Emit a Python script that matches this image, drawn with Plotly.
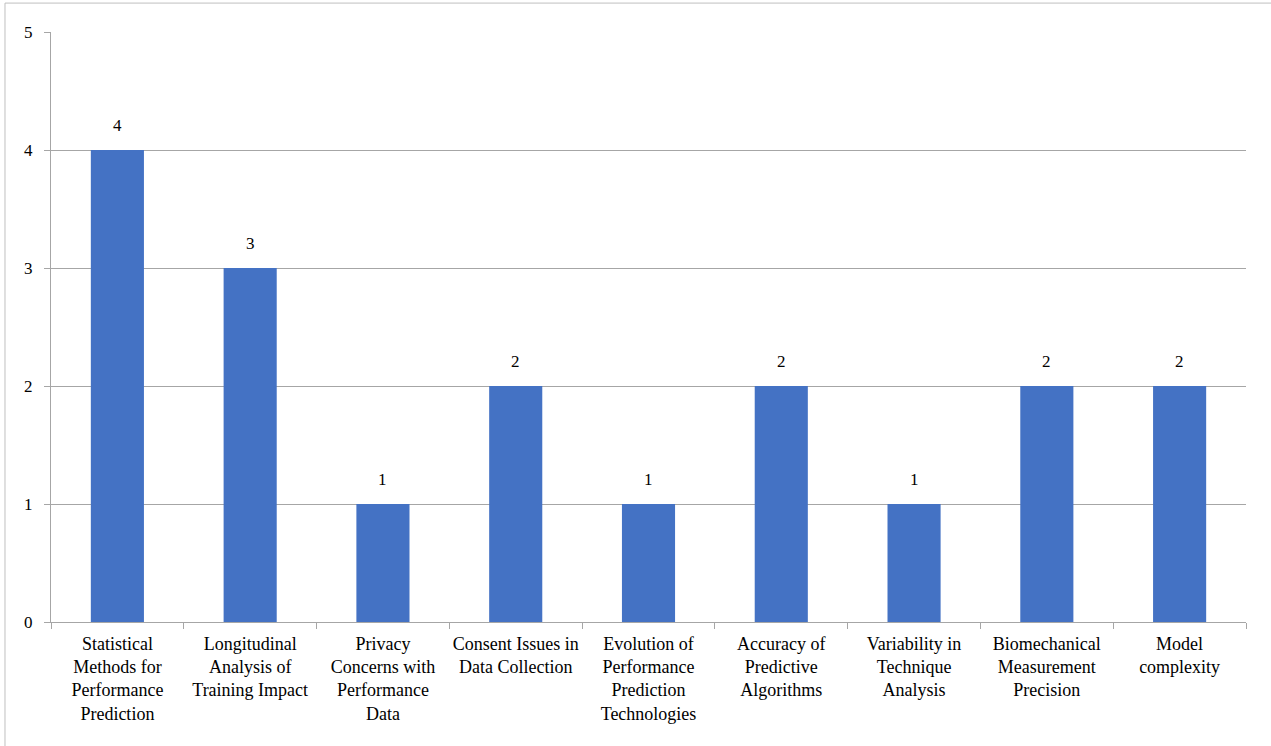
import plotly.graph_objects as go

categories = [
    "Statistical<br>Methods for<br>Performance<br>Prediction",
    "Longitudinal<br>Analysis of<br>Training Impact",
    "Privacy<br>Concerns with<br>Performance<br>Data",
    "Consent Issues in<br>Data Collection",
    "Evolution of<br>Performance<br>Prediction<br>Technologies",
    "Accuracy of<br>Predictive<br>Algorithms",
    "Variability in<br>Technique<br>Analysis",
    "Biomechanical<br>Measurement<br>Precision",
    "Model<br>complexity",
]
values = [4, 3, 1, 2, 1, 2, 1, 2, 2]
y_ticks = [0, 1, 2, 3, 4, 5]

FONT = "Liberation Serif"
GRID = "#A6A6A6"

fig = go.Figure()
fig.add_trace(go.Bar(x=categories, y=values, marker=dict(color="#4472C4", line=dict(width=0)),
                     hoverinfo="skip"))

annotations = [
    dict(x=c, y=v, text=str(v), showarrow=False, yshift=25, xref="x", yref="y",
         font=dict(family=FONT, size=17, color="#000000"))
    for c, v in zip(categories, values)
]

fig.update_layout(
    width=1271, height=746,
    margin=dict(l=51, r=25, t=32, b=124),
    paper_bgcolor="white", plot_bgcolor="white",
    bargap=0.6, showlegend=False,
    font=dict(family=FONT, size=17, color="#000000"),
    annotations=annotations,
    xaxis=dict(type="category", tickson="boundaries", ticks="outside", ticklen=6,
               tickcolor=GRID, showline=True, linecolor=GRID, linewidth=1,
               showgrid=False, tickfont=dict(family=FONT, size=18, color="#000000"),
               tickangle=0, ticklabelstandoff=5),
    yaxis=dict(range=[0, 5], tickvals=y_ticks, ticks="outside", ticklen=6, tickcolor=GRID,
               showline=True, linecolor=GRID, linewidth=1, showgrid=True, gridcolor=GRID,
               gridwidth=1, zeroline=False, ticklabelstandoff=8,
               tickfont=dict(family=FONT, size=17, color="#000000")),
    shapes=[
        dict(type="line", xref="paper", yref="paper", x0=-0.0385, x1=1.05, y0=1.049, y1=1.049,
             line=dict(color="#BFBFBF", width=1)),
        dict(type="line", xref="paper", yref="paper", x0=-0.0385, x1=-0.0385, y0=1.049, y1=-0.25,
             line=dict(color="#BFBFBF", width=1)),
    ],
)

fig.write_html("out.html")
